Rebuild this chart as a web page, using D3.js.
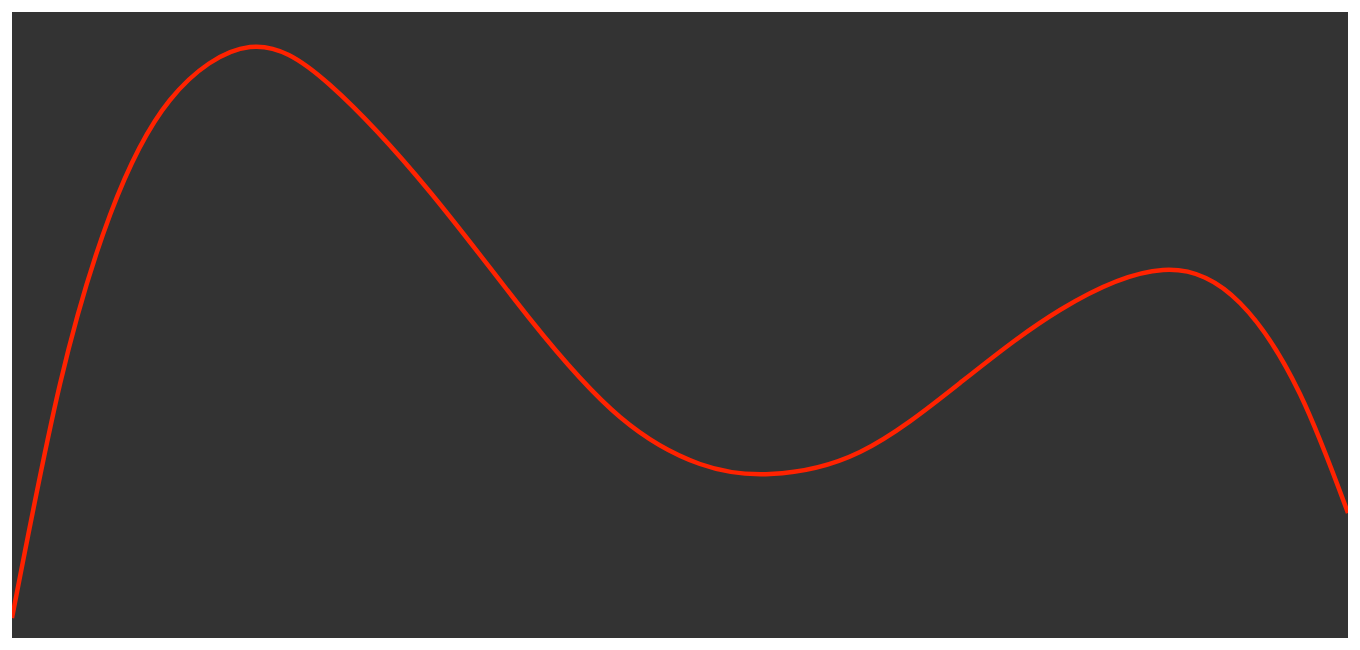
<!DOCTYPE html>
<html>
<head>
<meta charset="utf-8">
<script src="https://cdn.jsdelivr.net/npm/d3@7"></script>
<style>
  body { margin: 0; background: #fff; }
</style>
</head>
<body>
<svg id="chart" width="1360" height="650"></svg>
<script>
// sample positions along the x axis
const xValues = [0, 48, 98, 158, 238, 318, 418, 518, 608, 688, 758, 848, 948, 1048,
  1151, 1228, 1288, 1336];

// curve height at each sample
const yValues = [20, 254, 423, 538, 591, 553, 446, 319, 221, 174, 164, 186, 255, 328,
  368, 335, 244, 125];

const margin = { top: 12, left: 12 };
const width = 1336;
const height = 626;

const svg = d3.select('#chart');

const g = svg
  .append('g')
  .attr('transform', `translate(${margin.left},${margin.top})`);

g.append('rect')
  .attr('width', width)
  .attr('height', height)
  .attr('fill', '#333333');

const xScale = d3.scaleLinear().domain([0, 1336]).range([0, width]);
const yScale = d3.scaleLinear().domain([0, 626]).range([height, 0]);

const points = xValues.map((x, i) => [x, yValues[i]]);

const line = d3
  .line()
  .x((d) => xScale(d[0]))
  .y((d) => yScale(d[1]))
  .curve(d3.curveNatural);

g.append('clipPath')
  .attr('id', 'clip')
  .append('rect')
  .attr('width', width)
  .attr('height', height);

g.append('path')
  .datum(points)
  .attr('clip-path', 'url(#clip)')
  .attr('fill', 'none')
  .attr('stroke', '#ff2200')
  .attr('stroke-width', 4.5)
  .attr('d', line);
</script>
</body>
</html>
